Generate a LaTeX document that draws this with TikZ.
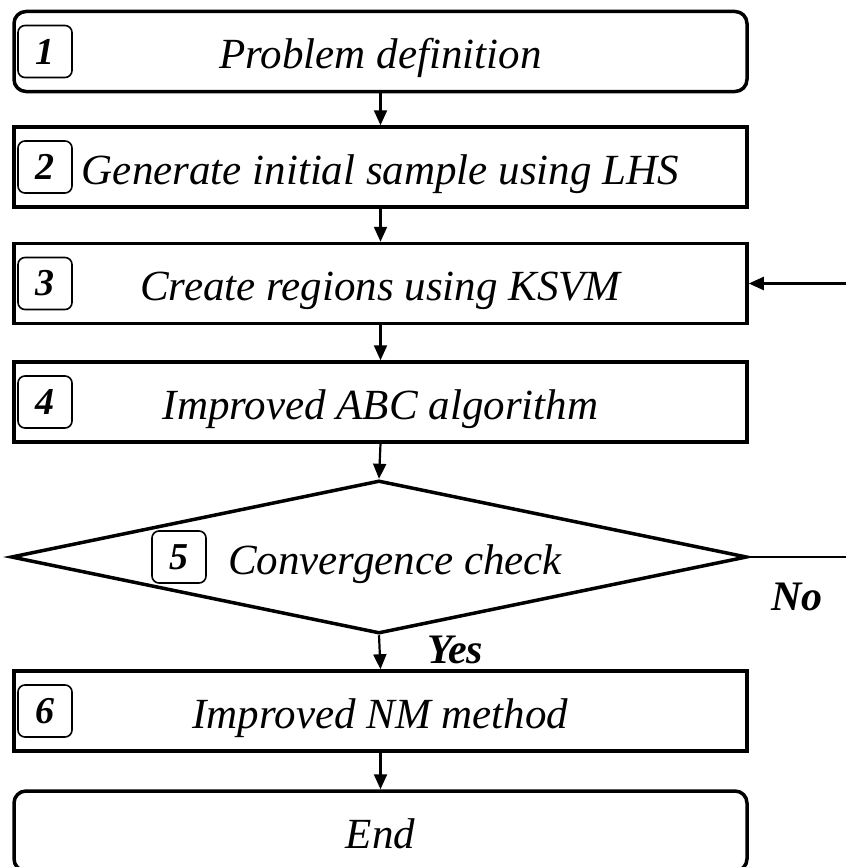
\documentclass[tikz,border=0pt]{standalone}
\usepackage{fontspec}
\setmainfont{Liberation Serif}
\usetikzlibrary{arrows.meta,shapes.geometric}
\begin{document}
\begin{tikzpicture}[x=1pt, y=-1pt,
	steptext/.style={font=\fontsize{43}{50}\selectfont\itshape, text height=42pt, text depth=8pt},
	stepbox/.style={draw, steptext, line width=3.5pt, minimum width=733pt, minimum height=80pt, inner sep=0pt},
	endbox/.style={stepbox, rounded corners=12pt},
	numbox/.style={draw, line width=1.6pt, rounded corners=7pt, minimum width=54pt, minimum height=52pt, inner sep=0pt, font=\fontsize{38}{44}\selectfont\bfseries\itshape},
	decbox/.style={draw, diamond, line width=3.5pt, minimum width=736pt, minimum height=153pt, inner sep=0pt, aspect=4.8},
	arr/.style={line width=2.2pt, -{Triangle[length=15pt,width=13pt]}},
	tag/.style={font=\fontsize{42}{48}\selectfont\bfseries\itshape}]
		\useasboundingbox (0, 0) rectangle (846, 867);
		\node[endbox] (s1) at (380.5, 51.5) {Problem definition};
		\node[stepbox] (s2) at (380.5, 167) {Generate initial sample using LHS};
		\node[stepbox] (s3) at (380.5, 283.5) {Create regions using KSVM};
		\node[stepbox] (s4) at (380.5, 402) {Improved ABC algorithm};
		\node[decbox] (dec) at (379, 557) {};
		\node[steptext] (dect) at (395, 557) {Convergence check};
		\node[stepbox] (s6) at (380.5, 711) {Improved NM method};
		\node[endbox] (s7) at (380.5, 831) {End};
		\node[numbox] (n1) at (45, 51.5) {1};
		\node[numbox] (n2) at (45, 167) {2};
		\node[numbox] (n3) at (45, 283.5) {3};
		\node[numbox] (n4) at (45, 402) {4};
		\node[numbox] (n5) at (179, 557) {5};
		\node[numbox] (n6) at (45, 711) {6};
		\draw[arr] (s1) -- (s2);
		\draw[arr] (s2) -- (s3);
		\draw[arr] (s3) -- (s4);
		\draw[arr] (s4.south) -- (dec.north);
		\draw[arr] (dec.south) -- (s6.north);
		\draw[arr] (s6) -- (s7);
		\coordinate (nofar) at (846, 557);
		\coordinate (backin) at (846, 283.5);
		\draw[line width=2.2pt] (dec.east) -- (nofar);
		\draw[arr] (backin) -- (s3.east);
		\node[tag] (yes) at (455, 650) {Yes};
		\node[tag] (no) at (797, 597) {No};
	\end{tikzpicture}
\end{document}
